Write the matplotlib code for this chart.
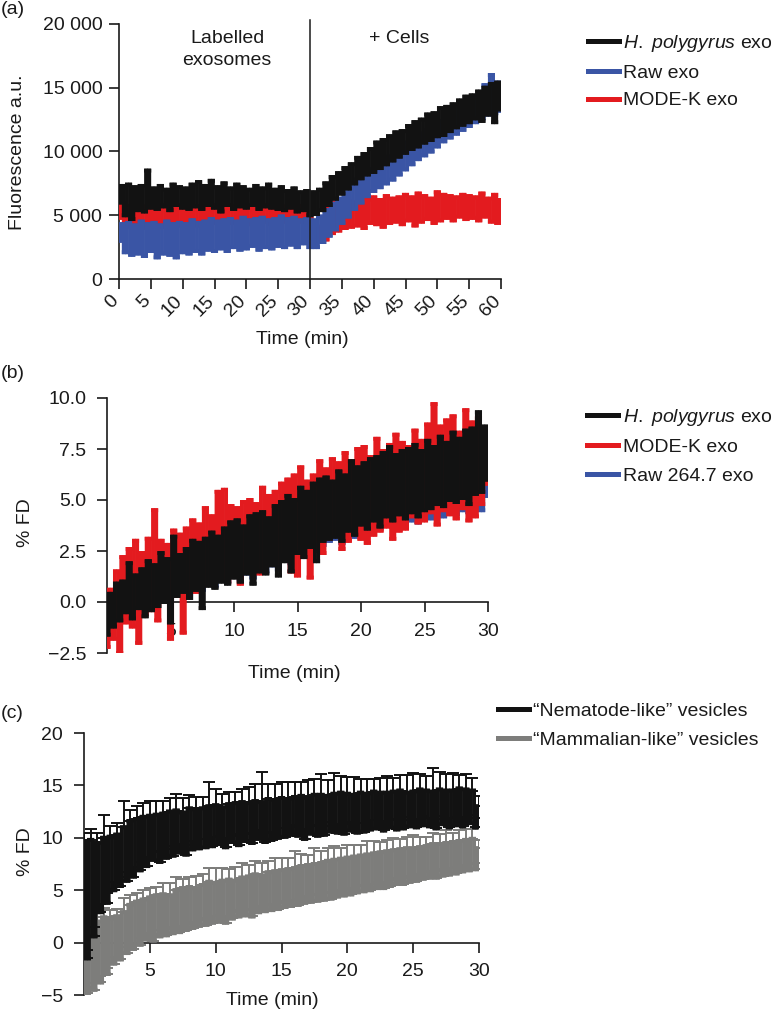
import numpy as np
import matplotlib
matplotlib.use('Agg')
import matplotlib.pyplot as plt
from matplotlib.lines import Line2D

plt.rcParams['font.family'] = ['Liberation Sans', 'DejaVu Sans']
plt.rcParams['mathtext.fontset'] = 'custom'
plt.rcParams['mathtext.rm'] = 'Liberation Sans'
plt.rcParams['mathtext.it'] = 'Liberation Sans:italic'
plt.rcParams['font.size'] = 14

# ---------------- Panel (a) data: fluorescence, 0-60 min (0.5 min steps) ----------------
black_a = [6000, 7300, 5000, 7400, 4700, 7200, 5400, 7300, 5300, 8500,
           5600, 7100, 5500, 7300, 5700, 7000, 5400, 7400, 5800, 7200,
           5600, 7100, 5500, 7400, 5700, 7600, 5500, 7300, 5800, 7700,
           5600, 7200, 5300, 7500, 5800, 7100, 5500, 7400, 5700, 7200,
           5600, 7000, 5800, 7300, 5500, 7100, 5700, 7400, 5600, 7000,
           5500, 7200, 5400, 6900, 5600, 7100, 5300, 6800, 5400, 6900,
           5000,
           6800, 5100, 7000, 5400, 7500, 5800, 8000, 6300, 8300, 6700,
           8700, 7100, 9000, 7500, 9500, 7900, 9800, 8200, 10200, 8400,
           10700, 8700, 10900, 9000, 11200, 9300, 11500, 9600, 11600, 9900,
           12000, 10200, 12300, 10400, 12500, 10700, 12900, 10900, 13000, 11200,
           13400, 11300, 13500, 11600, 13700, 11900, 14000, 12100, 14300, 12300,
           14400, 12600, 14700, 12400, 15000, 12900, 15300, 12300, 15400, 13300]
blue_a = [3000, 4300, 2100, 4400, 1900, 4200, 2000, 4500, 1800, 4300,
          2200, 4400, 1700, 4200, 2000, 4500, 1900, 4300, 1700, 4400,
          2100, 4300, 2000, 4600, 2200, 4400, 2000, 4500, 2300, 4700,
          2200, 4500, 2400, 4600, 2200, 4700, 2500, 4500, 2300, 4800,
          2400, 4600, 2600, 4700, 2300, 4800, 2500, 4600, 2400, 4700,
          2600, 4900, 2500, 4700, 2700, 4800, 2500, 4600, 2800, 4700,
          2500,
          4600, 2500, 4900, 2900, 5400, 3400, 5900, 3900, 6300, 4400,
          6800, 4900, 7300, 5500, 7800, 6000, 8200, 6500, 8600, 6900,
          9000, 7200, 9300, 7500, 9600, 7800, 10000, 8200, 10300, 8600,
          10700, 9000, 11000, 9400, 11400, 9700, 11700, 10000, 12100, 10400,
          12400, 10800, 12700, 11100, 13000, 11400, 13400, 11700, 13700, 12000,
          14000, 12300, 14400, 12600, 15200, 12900, 16000, 13000, 15400, 13200]
red_a = [4800, 5900, 4300, 5700, 4100, 5800, 4400, 5600, 4000, 5700,
         4300, 5500, 4200, 5800, 4100, 5600, 4400, 5700, 4200, 5500,
         4500, 5800, 4300, 5600, 4200, 5700, 4500, 5500, 4300, 5600,
         4400, 5800, 4200, 5500, 4600, 5700, 4400, 5600, 4500, 5800,
         4300, 5600, 4600, 5700, 4400, 5500, 4500, 5800, 4300, 5600,
         4600, 5700, 4500, 5600, 4400, 5500, 4600, 5700, 4500, 5500,
         4700,
         3000, 3900, 3000, 4100, 3100, 5800, 3600, 6000, 3800, 5900,
         4000, 6100, 4100, 6000, 4200, 6300, 4000, 6200, 4400, 6400,
         4300, 6200, 4100, 6500, 4400, 6300, 4500, 6400, 4300, 6600,
         4600, 6400, 4200, 6700, 4500, 6500, 4700, 6300, 4400, 6800,
         4600, 6600, 4800, 6500, 4600, 6400, 4900, 6600, 4700, 6500,
         4800, 6400, 4600, 6700, 4900, 6300, 4500, 6600, 4400, 6200]
labels_a = [r'$\mathit{H.\ polygyrus}$ exo', 'Raw exo', 'MODE-K exo']
yticks_a = [0, 5000, 10000, 15000, 20000]
yticklabels_a = ['0', '5 000', '10 000', '15 000', '20 000']
xticks_a = list(range(0, 61, 5))
cells_added_min = 30

# ---------------- Panel (b) data: % FD, 0-30 min (0.25 min steps) ----------------
black_b = [-1.6, 0.4, -1.2, 0.9, -0.9, 1.0, -0.5, 1.9, -0.8, 1.3, -0.3, 1.6, -0.7, 2.0, -0.4, 1.8, -0.2, 2.4, 0.0, 2.1,
           -1.0, 3.2, 0.3, 2.3, 0.5, 2.6, 0.2, 3.0, 0.6, 2.9, -0.3, 3.1, 0.8, 3.4, 0.7, 3.2, 1.0, 3.6, 0.9, 3.9,
           1.2, 4.0, 1.0, 3.7, 1.4, 4.2, 0.9, 4.3, 1.5, 4.4, 1.4, 4.1, 1.8, 4.7, 1.3, 4.9, 2.0, 5.2, 1.5, 5.0,
           2.4, 5.6, 2.2, 5.4, 2.7, 5.8, 2.0, 6.0, 3.0, 6.1, 3.1, 5.9, 3.2, 6.4, 3.0, 6.2, 3.5, 6.9, 3.3, 6.6,
           3.8, 6.8, 3.6, 7.0, 4.0, 7.1, 3.7, 7.3, 4.2, 7.6, 4.0, 7.2, 4.3, 7.4, 4.1, 7.5, 4.4, 7.7, 4.2, 7.4,
           4.5, 7.9, 4.6, 7.6, 4.8, 8.1, 4.7, 7.8, 5.0, 8.3, 4.9, 8.0, 5.1, 8.4, 4.8, 8.5, 5.3, 9.3, 5.4, 8.6,
           6.0]
red_b = [-2.2, 0.6, -1.8, 1.5, -2.5, 2.2, -1.0, 2.6, -1.2, 3.0, -2.0, 2.4, -0.6, 3.1, -0.4, 4.5, -0.9, 3.0, 0.0, 2.8,
         -1.8, 3.5, 0.3, 3.3, -1.5, 3.6, 0.6, 4.0, 0.5, 3.8, 0.8, 4.6, 1.0, 4.2, 1.2, 5.4, 1.3, 5.5, 1.0, 4.7,
         1.5, 4.6, 0.9, 4.9, 1.8, 5.0, 1.7, 4.8, 1.4, 5.6, 2.0, 5.2, 2.1, 5.4, 1.9, 5.8, 2.5, 6.0, 1.5, 6.2,
         1.3, 6.6, 2.8, 5.9, 1.2, 6.2, 3.0, 6.9, 2.4, 6.5, 3.1, 7.0, 3.3, 6.8, 2.6, 7.3, 3.0, 6.9, 3.4, 7.5,
         3.1, 7.6, 2.9, 7.1, 3.3, 8.0, 3.5, 7.4, 3.7, 7.7, 3.1, 8.2, 3.5, 7.8, 3.6, 7.6, 4.2, 8.4, 3.9, 7.9,
         4.0, 8.7, 4.4, 9.7, 3.8, 8.6, 4.5, 8.9, 4.3, 9.1, 4.1, 8.3, 4.6, 9.4, 4.0, 8.8, 4.2, 9.0, 4.8, 8.3,
         5.8]
blue_b = [-1.4, 0.3, -1.0, 0.7, -0.8, 0.9, -0.4, 1.5, -0.6, 1.2, -0.2, 1.5, -0.5, 1.8, -0.2, 1.7, 0.0, 2.2, 0.1, 2.0,
          0.1, 2.6, 0.4, 2.2, 0.6, 2.5, 0.4, 2.8, 0.7, 2.8, 0.6, 3.0, 0.9, 3.2, 0.8, 3.1, 1.1, 3.4, 1.0, 3.6,
          1.3, 3.7, 1.1, 3.6, 1.4, 3.9, 1.2, 4.0, 1.6, 4.1, 1.5, 4.0, 1.8, 4.4, 1.6, 4.5, 2.1, 4.8, 1.9, 4.7,
          2.4, 5.1, 2.3, 5.0, 2.6, 5.3, 2.5, 5.5, 2.8, 5.6, 3.0, 5.5, 3.1, 5.9, 2.9, 5.8, 3.3, 6.2, 3.2, 6.1,
          3.5, 6.3, 3.4, 6.5, 3.7, 6.6, 3.6, 6.7, 3.8, 6.9, 3.7, 6.8, 3.9, 7.0, 3.8, 7.1, 4.0, 7.2, 3.9, 7.0,
          4.2, 7.4, 4.1, 7.3, 4.3, 7.6, 4.2, 7.5, 4.4, 7.8, 4.3, 7.6, 4.5, 7.9, 4.4, 8.0, 4.6, 8.1, 4.5, 8.0,
          5.2]
labels_b = [r'$\mathit{H.\ polygyrus}$ exo', 'MODE-K exo', 'Raw 264.7 exo']
yticks_b = [-2.5, 0.0, 2.5, 5.0, 7.5, 10.0]
xticks_bc = [5, 10, 15, 20, 25, 30]

# ---------------- Panel (c) data: % FD mean and upper error, 0-30 min ----------------
black_c = [9.6, -1.5, 9.8, 0.6, 9.5, 2.9, 10.0, 3.8, 10.1, 5.0, 10.3, 5.4, 11.0, 5.9, 11.6, 6.3, 11.8, 6.9, 12.0, 7.3,
           12.1, 7.9, 12.2, 7.7, 12.3, 8.1, 12.5, 8.3, 12.6, 8.6, 12.4, 8.4, 12.8, 8.9, 12.7, 9.0, 12.8, 9.1, 13.0, 9.2,
           13.1, 9.4, 12.9, 9.1, 13.2, 9.6, 13.3, 9.3, 13.4, 9.7, 13.3, 9.5, 13.5, 9.9, 13.4, 9.6, 13.7, 9.8, 13.6, 10.0,
           13.8, 10.1, 13.7, 10.3, 13.9, 10.2, 14.0, 9.9, 13.8, 10.4, 14.1, 10.2, 14.1, 10.3, 14.0, 10.6, 14.2, 10.5, 14.3, 10.4,
           14.2, 10.7, 14.1, 10.5, 14.3, 10.6, 14.2, 10.8, 14.4, 10.9, 14.3, 10.7, 14.3, 11.0, 14.4, 10.8, 14.5, 10.9, 14.3, 11.1,
           14.4, 11.0, 14.6, 11.2, 14.5, 11.1, 14.4, 10.9, 14.6, 11.3, 14.5, 11.0, 14.5, 11.2, 14.7, 11.1, 14.6, 11.4, 14.5, 11.0,
           13.0]
err_black_c = [0.9, 0.8, 1.0, 0.9, 1.0, 0.8, 2.2, 0.9, 1.0, 0.8, 1.1, 0.9, 2.5, 0.8, 1.1, 0.9, 1.2, 0.8, 1.3, 0.9,
               1.4, 0.8, 1.3, 0.9, 1.2, 0.8, 1.3, 0.9, 1.6, 0.8, 1.4, 0.9, 1.3, 0.8, 1.2, 0.9, 1.1, 0.8, 2.3, 0.9,
               1.6, 0.8, 1.3, 0.9, 1.2, 0.8, 1.1, 0.9, 1.3, 0.8, 1.5, 0.9, 1.6, 0.8, 2.9, 0.9, 1.4, 0.8, 1.5, 0.9,
               1.5, 0.8, 1.6, 0.9, 1.4, 0.8, 1.3, 0.9, 1.7, 0.8, 1.5, 0.9, 2.0, 0.8, 1.5, 0.9, 2.0, 0.8, 1.6, 0.9,
               1.6, 0.8, 1.7, 0.9, 1.3, 0.8, 1.4, 0.9, 1.2, 0.8, 1.4, 0.9, 1.6, 0.8, 1.3, 0.9, 1.5, 0.8, 1.7, 0.9,
               1.8, 0.8, 1.5, 0.9, 1.4, 0.8, 2.3, 0.9, 1.7, 0.8, 1.6, 0.9, 1.7, 0.8, 1.3, 0.9, 1.5, 0.8, 1.2, 0.9,
               1.0]
grey_c = [1.0, -4.8, 1.3, -4.5, 2.0, -3.8, 2.4, -3.0, 2.3, -2.0, 2.5, -1.6, 2.9, -1.0, 3.6, -0.6, 3.9, -0.2, 4.1, 0.3,
          4.3, 0.2, 4.5, 0.6, 4.6, 0.7, 4.5, 0.9, 5.0, 1.0, 5.2, 1.2, 5.3, 1.4, 5.2, 1.6, 5.5, 1.7, 5.8, 1.9,
          5.7, 2.0, 5.9, 1.9, 6.0, 2.3, 5.9, 2.5, 6.2, 2.6, 6.3, 2.5, 6.5, 2.9, 6.4, 3.0, 6.7, 3.1, 6.8, 3.2,
          6.9, 3.4, 7.0, 3.5, 7.1, 3.6, 7.3, 3.8, 7.4, 3.9, 7.5, 4.0, 7.6, 4.1, 7.8, 4.2, 7.9, 4.4, 8.0, 4.5,
          8.1, 4.6, 8.2, 4.8, 8.3, 4.9, 8.4, 5.0, 8.5, 5.2, 8.6, 5.2, 8.7, 5.4, 8.8, 5.6, 8.9, 5.6, 9.0, 5.8,
          9.0, 5.9, 9.1, 6.1, 9.2, 6.2, 9.4, 6.2, 9.4, 6.4, 9.5, 6.5, 9.6, 6.6, 9.7, 6.8, 9.8, 6.9, 9.9, 7.0,
          9.0]
err_grey_c = [0.7, 0.6, 0.8, 0.6, 1.2, 0.6, 0.9, 0.6, 0.8, 0.6, 0.7, 0.6, 1.4, 0.6, 0.9, 0.6, 0.8, 0.6, 0.9, 0.6,
              0.9, 0.6, 0.8, 0.6, 1.1, 0.6, 1.2, 0.6, 1.3, 0.6, 0.9, 0.6, 1.0, 0.6, 1.2, 0.6, 1.0, 0.6, 1.3, 0.6,
              1.4, 0.6, 1.2, 0.6, 1.0, 0.6, 1.3, 0.6, 1.4, 0.6, 1.1, 0.6, 1.3, 0.6, 1.2, 0.6, 1.1, 0.6, 1.3, 0.6,
              1.2, 0.6, 1.1, 0.6, 1.6, 0.6, 1.2, 0.6, 1.0, 0.6, 1.5, 0.6, 1.1, 0.6, 1.2, 0.6, 1.3, 0.6, 1.0, 0.6,
              1.2, 0.6, 1.1, 0.6, 1.0, 0.6, 1.3, 0.6, 1.2, 0.6, 1.0, 0.6, 1.1, 0.6, 1.2, 0.6, 1.0, 0.6, 1.1, 0.6,
              1.3, 0.6, 1.0, 0.6, 0.9, 0.6, 1.1, 0.6, 1.0, 0.6, 1.2, 0.6, 0.9, 0.6, 1.0, 0.6, 1.0, 0.6, 0.9, 0.6,
              0.8]
labels_c = ['\u201cNematode-like\u201d vesicles', '\u201cMammalian-like\u201d vesicles']
yticks_c = [-5, 0, 5, 10, 15, 20]

# ---------------- styling ----------------
C_BLACK = '#121212'
C_BLUE = '#3a55a5'
C_RED = '#e31b1f'
C_GREY = '#7d7d7b'
TXT = '#1a1a1a'
LW = 2.8
FS = 14

W, H = 779, 1013
fig = plt.figure(figsize=(W / 100, H / 100), dpi=100)


def rect(l, r, t, b):
    return [l / W, 1 - b / H, (r - l) / W, (b - t) / H]


def fx(x):
    return x / W


def fy(y):
    return 1 - y / H


def style(ax, pad):
    for s in ['top', 'right']:
        ax.spines[s].set_visible(False)
    for s in ['left', 'bottom']:
        ax.spines[s].set_linewidth(1.2)
        ax.spines[s].set_color(TXT)
    ax.tick_params(direction='out', length=7, width=1.2, labelsize=FS,
                   colors=TXT, pad=pad)


def step_band(ax, t, v, color, z):
    """Draw a step trace as separate, unsnapped segments so that the dense
    zig-zag renders as a solid band."""
    t = np.asarray(t, float)
    v = np.asarray(v, float)
    edges = np.concatenate([[t[0]], (t[:-1] + t[1:]) / 2, [t[-1]]])
    hl = ax.hlines(v, edges[:-1], edges[1:], colors=color, lw=LW, zorder=z,
                   capstyle='projecting')
    vl = ax.vlines(edges[1:-1], v[:-1], v[1:], colors=color, lw=LW, zorder=z,
                   capstyle='projecting')
    hl.set_snap(False)
    vl.set_snap(False)


# ---- (a)
ax = fig.add_axes(rect(119, 501, 24, 279))
time_a = np.linspace(0, 60, len(black_a))
for vals, col in [(red_a, C_RED), (blue_a, C_BLUE), (black_a, C_BLACK)]:
    step_band(ax, time_a, vals, col, 3)
ax.axvline(cells_added_min, ymin=0, ymax=1.015, color=TXT, lw=1.1, clip_on=False, zorder=4)
ax.set_xlim(0, 60)
ax.set_ylim(0, 20000)
style(ax, 5)
ax.tick_params(axis='x', pad=9)
ax.set_yticks(yticks_a)
ax.set_yticklabels(yticklabels_a)
ax.set_xticks(xticks_a)
ax.set_xticklabels([str(v) for v in xticks_a], rotation=45, ha='right', va='baseline',
                   rotation_mode='anchor')
ax.text(17, 18000, 'Labelled\nexosomes', ha='center', va='center', fontsize=FS,
        linespacing=1.45, color=TXT)
ax.text(44, 18900, '+ Cells', ha='center', va='center', fontsize=FS, color=TXT)
fig.text(fx(302), fy(340), 'Time (min)', ha='center', va='center', fontsize=FS, color=TXT)
fig.text(fx(18), fy(152), 'Fluorescence a.u.', rotation=90, ha='center', va='center',
         fontsize=FS, color=TXT)
fig.text(fx(1), fy(10), '(a)', ha='left', va='center', fontsize=FS, color=TXT)
handles_a = [Line2D([], [], color=c, lw=3.6) for c in (C_BLACK, C_BLUE, C_RED)]
fig.legend(handles_a, labels_a, loc='upper left', bbox_to_anchor=(fx(588), fy(33)),
           frameon=False, borderpad=0, borderaxespad=0, handlelength=1.6,
           handletextpad=0.2, labelspacing=0.52, fontsize=FS, labelcolor=TXT)

# ---- (b)
ax = fig.add_axes(rect(107, 488, 398, 653))
time_b = np.linspace(0, 30, len(black_b))
for vals, col in [(blue_b, C_BLUE), (red_b, C_RED), (black_b, C_BLACK)]:
    step_band(ax, time_b, vals, col, 3)
ax.set_xlim(0, 30)
ax.set_ylim(-2.5, 10)
ax.spines['bottom'].set_position(('data', 0))
style(ax, 8)
ax.set_yticks(yticks_b)
ax.set_yticklabels(['\u22122.5' if v < 0 else f'{v:.1f}' for v in yticks_b])
ax.set_xticks(xticks_bc)
fig.text(fx(294), fy(673), 'Time (min)', ha='center', va='center', fontsize=FS, color=TXT)
fig.text(fx(25), fy(523), '% FD', rotation=90, ha='center', va='center', fontsize=FS, color=TXT)
fig.text(fx(1), fy(373), '(b)', ha='left', va='center', fontsize=FS, color=TXT)
handles_b = [Line2D([], [], color=c, lw=3.6) for c in (C_BLACK, C_RED, C_BLUE)]
fig.legend(handles_b, labels_b, loc='upper left', bbox_to_anchor=(fx(587), fy(407)),
           frameon=False, borderpad=0, borderaxespad=0, handlelength=1.6,
           handletextpad=0.25, labelspacing=0.55, fontsize=FS, labelcolor=TXT)

# ---- (c)
ax = fig.add_axes(rect(84, 479, 733, 995))
time_c = np.linspace(0, 30, len(black_c))
for vals, err, col, z in [(grey_c, err_grey_c, C_GREY, 3), (black_c, err_black_c, C_BLACK, 4)]:
    ax.errorbar(time_c, vals, yerr=[np.zeros(len(err)), err], fmt='none', ecolor=col,
                elinewidth=1.4, capsize=4.5, capthick=1.4, zorder=z)
    step_band(ax, time_c, vals, col, z)
ax.set_xlim(0, 30)
ax.set_ylim(-5, 20)
ax.spines['bottom'].set_position(('data', 0))
style(ax, 8)
ax.set_yticks(yticks_c)
ax.set_yticklabels(['\u22125' if v < 0 else str(v) for v in yticks_c])
ax.set_xticks(xticks_bc)
fig.text(fx(272), fy(1000), 'Time (min)', ha='center', va='center', fontsize=FS, color=TXT)
fig.text(fx(26), fy(852), '% FD', rotation=90, ha='center', va='center', fontsize=FS, color=TXT)
fig.text(fx(1), fy(713), '(c)', ha='left', va='center', fontsize=FS, color=TXT)
handles_c = [Line2D([], [], color=c, lw=3.6) for c in (C_BLACK, C_GREY)]
fig.legend(handles_c, labels_c, loc='upper left', bbox_to_anchor=(fx(498), fy(702)),
           frameon=False, borderpad=0, borderaxespad=0, handlelength=1.6,
           handletextpad=0.2, labelspacing=0.58, fontsize=FS, labelcolor=TXT)

fig.savefig('out.png', dpi=100)
